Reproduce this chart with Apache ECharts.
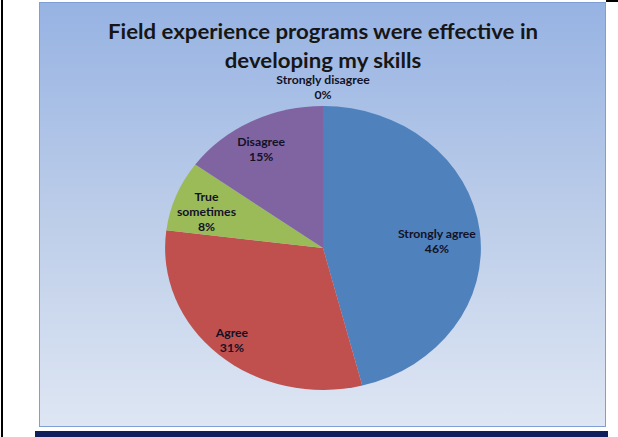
<!DOCTYPE html>
<html>
<head>
<meta charset="utf-8">
<script src="https://cdn.jsdelivr.net/npm/echarts@6/dist/echarts.min.js"></script>
<style>
  html, body { margin: 0; padding: 0; background: #ffffff; width: 618px; height: 437px; overflow: hidden; }
  .frame-left { position: absolute; left: 1px; top: 0; width: 2px; height: 437px; background: #000; }
  .frame-top { position: absolute; left: 606px; top: 0; width: 12px; height: 2px; background: #000; }
  .footer-bar { position: absolute; left: 35px; top: 431px; width: 573px; height: 6px; background: #0f1f5c; }
  .panel { position: absolute; left: 39px; top: 2px; width: 567px; height: 425px; box-sizing: border-box;
           border: 1px solid #7f9fd4; box-shadow: inset 0 0 0 1px #b4c8ea; overflow: hidden; }
  #chart { position: absolute; left: 0; top: 0; width: 509px; height: 423px;
           transform: scaleX(1.1120); transform-origin: 0 0; }
</style>
</head>
<body>
<div class="frame-left"></div>
<div class="frame-top"></div>
<div class="panel"><div id="chart"></div></div>
<div class="footer-bar"></div>
<script>
// Survey answers, in the order the slices run clockwise from 12 o'clock
const categories = ['Strongly agree', 'Agree', 'True sometimes', 'Disagree', 'Strongly disagree'];
const percentages = [46, 31, 8, 15, 0];
const sliceColors = ['#4f81bd', '#c0504d', '#9bbb59', '#8064a2', '#4bacc6'];
// Label names split over lines as they are printed on the slices
const labelNames = ['Strongly agree', 'Agree', 'True\nsometimes', 'Disagree', 'Strongly disagree'];
// Nudges for each slice label away from the default inside spot
const labelNudges = [[29, 3], [-33, 37], [-36, -9], [-22, -33], [0, -87]];

const chart = echarts.init(document.getElementById('chart'), null, { renderer: 'svg' });

const data = categories.map((name, i) => ({
  name: name,
  value: percentages[i],
  itemStyle: { color: sliceColors[i] }
}));

chart.setOption({
  backgroundColor: {
    type: 'linear', x: 0, y: 0, x2: 0, y2: 1,
    colorStops: [
      { offset: 0, color: '#97b3e3' },
      { offset: 0.5, color: '#bccde9' },
      { offset: 1, color: '#dee6f3' }
    ]
  },
  animation: false,
  title: {
    text: 'Field experience programs were effective in\ndeveloping my skills',
    left: 'center',
    top: 9,
    textStyle: {
      fontFamily: 'Lato',
      fontWeight: 'bold',
      fontSize: 20,
      lineHeight: 29,
      color: '#161616'
    }
  },
  series: [{
    type: 'pie',
    center: ['50%', 245],
    radius: 142,
    startAngle: 90,
    clockwise: true,
    avoidLabelOverlap: false,
    stillShowZeroSum: true,
    minShowLabelAngle: 0,
    data: data,
    label: {
      show: true,
      position: 'inside',
      fontFamily: 'Lato',
      fontWeight: 'bold',
      fontSize: 11,
      lineHeight: 15,
      color: '#121226',
      formatter: p => labelNames[p.dataIndex] + '\n' + Math.round(p.value) + '%'
    },
    labelLine: { show: false },
    labelLayout: p => ({ dx: labelNudges[p.dataIndex][0], dy: labelNudges[p.dataIndex][1] }),
    emphasis: { disabled: true }
  }]
});
</script>
</body>
</html>
